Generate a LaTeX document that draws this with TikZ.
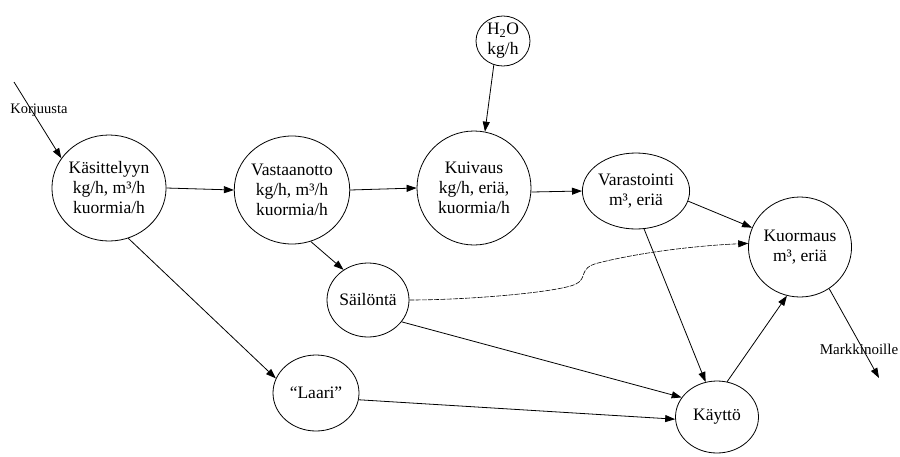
\documentclass[tikz,border=0pt]{standalone}
\usepackage{fontspec}
\setmainfont{Liberation Serif}
\usetikzlibrary{shapes.geometric,arrows.meta}
\tikzset{
  station/.style={draw, ellipse, inner sep=0pt, align=center, line width=0.8pt,
    font=\fontsize{17.5}{20}\selectfont},
  flow/.style={line width=0.8pt, -{Triangle[length=10pt,width=7pt]}},
  loose/.style={line width=0.6pt, dash pattern=on 5pt off 1.2pt, -{Triangle[length=10pt,width=7pt]}},
  tag/.style={inner sep=0pt, font=\fontsize{14.5}{16}\selectfont}
}
\begin{document}
\begin{tikzpicture}[x=1pt,y=-1pt]
\useasboundingbox (0,0) rectangle (900,456);

% stations of the handling chain
\node[station, minimum width=114pt, minimum height=106pt] (kas) at (109,188) {Käsittelyyn\\kg/h, m³/h\\kuormia/h};
\node[station, minimum width=114pt, minimum height=108pt] (vas) at (292,190) {Vastaanotto\\kg/h, m³/h\\kuormia/h};
\node[station, minimum width=114pt, minimum height=114pt] (kui) at (474,188) {Kuivaus\\kg/h, eriä,\\kuormia/h};
\node[station, minimum width=54pt, minimum height=48pt] (h2o) at (503,41) {H\textsubscript{2}O\\kg/h};
\node[station, minimum width=90pt, minimum height=76pt] (var) at (636,191) {Varastointi\\m³, eriä};
\node[station, minimum width=86pt, minimum height=100pt] (kuo) at (800,247) {Kuormaus\\m³, eriä};
\node[station, minimum width=82pt, minimum height=74pt] (sai) at (368,300) {Säilöntä};
\node[station, minimum width=86pt, minimum height=76pt] (laa) at (316,393) {“Laari”};
\node[station, minimum width=83pt, minimum height=72pt] (kay) at (717,417) {Käyttö};

% inflow and outflow ends
\coordinate (src) at (14,82);
\coordinate (out) at (879,378);
\node[tag] (korj) at (39,110) {Korjuusta};
\node[tag, font=\fontsize{15}{17}\selectfont] (mark) at (859,349) {Markkinoille};

% connectors
\draw[flow] (src) -- (kas.148);
\draw[flow] (kas.east) -- (vas.west);
\draw[flow] (vas.east) -- (kui.west);
\draw[flow] (kui.356) -- (var.west);
\draw[flow] (h2o.249) -- (kui.79);
\draw[flow] (vas.290) -- (sai.129);
\draw[flow] (kas.291) -- (laa.160);
\draw[flow] (var.349) -- (kuo.158);
\draw[loose] (sai.east) .. controls (470,300) and (560,292) .. (576,284)
   .. controls (588,278) and (578,268) .. (598,263)
   .. controls (650,250) and (710,245) .. (kuo.176);
\draw[flow] (sai.327) -- (kay.151);
\draw[flow] (laa.351) -- (kay.183);
\draw[flow] (var.282) -- (kay.108);
\draw[flow] (kay.74) -- (kuo.255);
\draw[flow] (kuo.305) -- (out);
\end{tikzpicture}
\end{document}
